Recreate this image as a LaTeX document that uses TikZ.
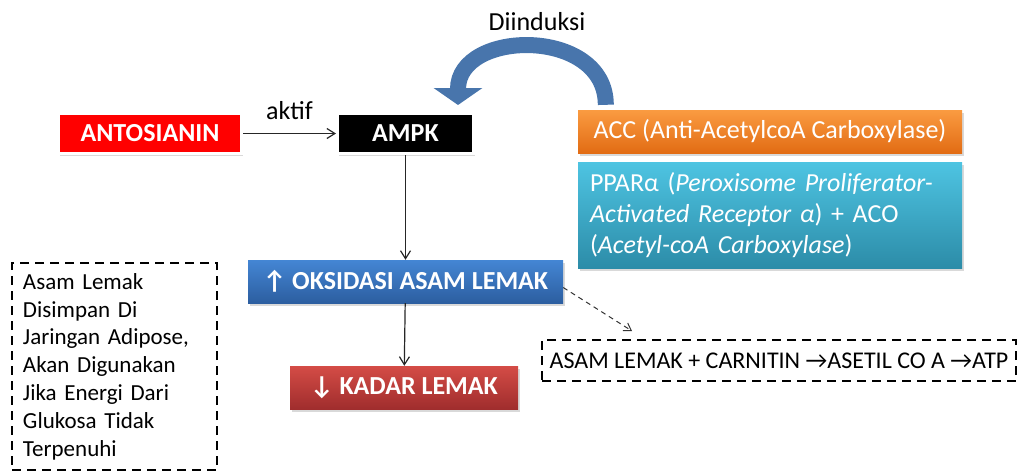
\documentclass[tikz,border=0pt]{standalone}
\usepackage{fontspec}
\setmainfont{Carlito}
\usepackage{tikz}
\usetikzlibrary{arrows.meta, shadows}

\begin{document}
\begin{tikzpicture}[
    x=1pt, y=-1pt,
    box/.style={minimum height=43pt, inner sep=0pt, align=center, text=white, boxshadow},
    boxshadow/.style={drop shadow={shadow xshift=1.5pt, shadow yshift=-2.5pt, opacity=0.3}},
    framed/.style={draw=white, line width=3pt, minimum height=40pt},
    bold/.style={font=\fontsize{26}{30}\selectfont\bfseries},
    plain/.style={font=\fontsize{26}{31}\selectfont},
    dashbox/.style={draw, line width=2.5pt, dash pattern=on 9pt off 6pt, inner sep=0pt},
    arrow/.style={-{Straight Barb[length=8pt, width=10pt]}, line width=1.2pt, draw=black!85},
    dasharrow/.style={-{Straight Barb[length=7pt, width=9pt]}, line width=1pt, draw=black!80, dash pattern=on 5pt off 4pt},
    bigarrow/.style={-{Triangle[width=48pt, length=17pt]}, line width=16pt, draw=arrowblue}
]

% Colors
\definecolor{arrowblue}{RGB}{72,117,172}
\definecolor{acctop}{RGB}{250,155,65}
\definecolor{accbottom}{RGB}{226,108,20}
\definecolor{ppartop}{RGB}{78,196,226}
\definecolor{pparbottom}{RGB}{44,140,168}
\definecolor{okstop}{RGB}{68,134,212}
\definecolor{oksbottom}{RGB}{44,94,160}
\definecolor{kadartop}{RGB}{212,76,70}
\definecolor{kadarbottom}{RGB}{160,45,45}

\useasboundingbox (0,0) rectangle (1017,472);

% Top row
\node[box, framed, bold, fill=red, minimum width=183pt] (antosianin) at (150,133.5) {ANTOSIANIN};
\node[box, framed, bold, fill=black, minimum width=136pt] (ampk) at (405.5,133.5) {AMPK};

\node[box, plain, top color=acctop, bottom color=accbottom, minimum width=384pt] (acc) at (770,131.5)
{ACC (Anti-AcetylcoA Carboxylase)};

\node[box, plain, top color=ppartop, bottom color=pparbottom, minimum width=384pt, minimum height=106pt,
    text width=360pt, align=left] (ppar) at (770,215)
{PPARα (\textit{Peroxisome Proliferator-}\\
\textit{Activated Receptor α}) + ACO\\
(\textit{Acetyl-coA Carboxylase})};

\node[font=\fontsize{26}{31}\selectfont] (diinduksi) at (537,22) {Diinduksi};

% Middle column
\node[box, bold, top color=okstop, bottom color=oksbottom, minimum width=315pt] (oks) at (405.5,281.5)
{↑ OKSIDASI ASAM LEMAK};
\node[box, bold, top color=kadartop, bottom color=kadarbottom, minimum width=228pt] (kadar) at (404,387.5)
{↓ KADAR LEMAK};

% Dashed notes
\node[dashbox, minimum width=205pt, minimum height=207pt, text width=183pt, align=left,
    font=\fontsize{23}{27.8}\selectfont] (simpan) at (114.5,366.5)
{Asam Lemak\\
Disimpan Di\\
Jaringan Adipose,\\
Akan Digunakan\\
Jika Energi Dari\\
Glukosa Tidak\\
Terpenuhi};

\node[dashbox, minimum width=474pt, minimum height=41pt, font=\fontsize{24}{29}\selectfont] (atp) at (779,360.5)
{ASAM LEMAK + CARNITIN →ASETIL CO A →ATP};

\coordinate (dashend) at (632,331);

% Arrows
\draw[arrow] (antosianin) -- node[above=11pt, inner sep=2pt, font=\fontsize{26}{31}\selectfont] (aktif) {aktif} (ampk);
\draw[arrow] (ampk) -- (oks);
\draw[arrow] (oks) -- (kadar);
\draw[dasharrow] ([yshift=-6pt]oks.east) -- (dashend);

\draw[bigarrow] ([xshift=28pt, yshift=5pt]acc.north west) .. controls +(0,-78) and +(0,-76) .. ([xshift=-17pt, yshift=7pt]ampk.north east);

\end{tikzpicture}
\end{document}
